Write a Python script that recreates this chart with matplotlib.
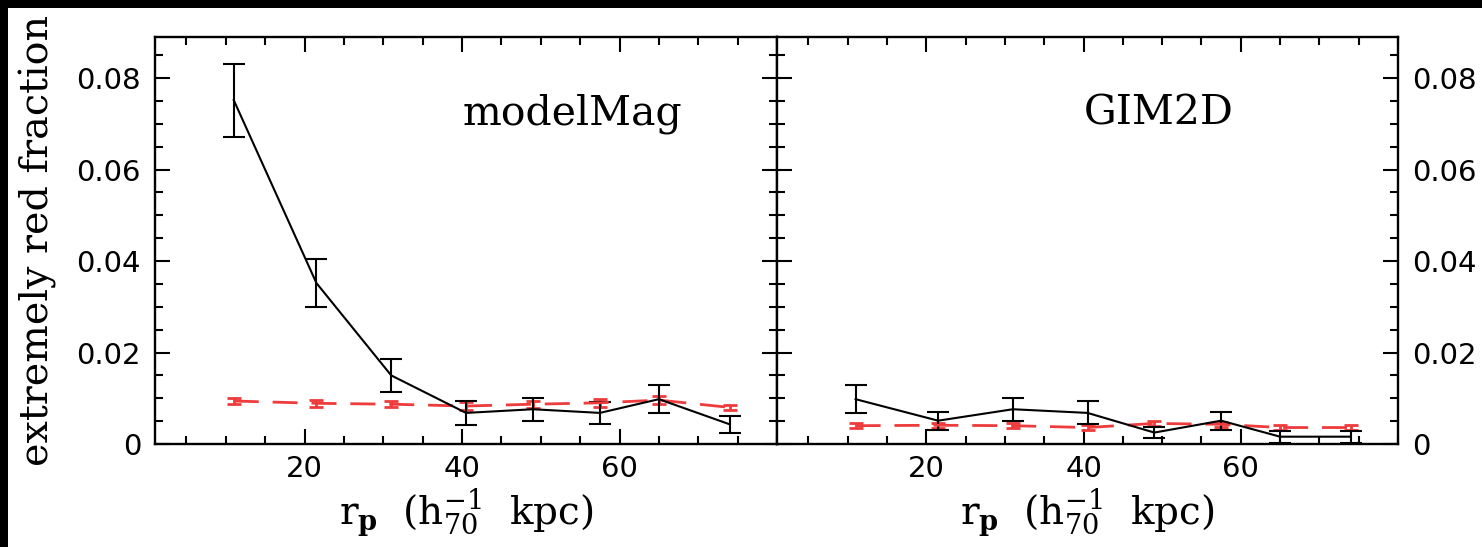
import numpy as np
import matplotlib.pyplot as plt
from matplotlib.patches import Rectangle
from matplotlib.ticker import MultipleLocator, FixedLocator, FuncFormatter

plt.rcParams['mathtext.fontset'] = 'dejavuserif'

# projected separation (h^-1_70 kpc)
rp = [11.0, 21.5, 31.0, 40.5, 49.0, 57.5, 65.0, 74.0]

# modelMag panel
mm_frac = [0.0752, 0.0352, 0.0150, 0.0068, 0.0076, 0.0068, 0.0098, 0.0043]
mm_err = [0.0080, 0.0053, 0.0036, 0.0026, 0.0025, 0.0024, 0.0030, 0.0019]
mm_ctrl = [0.0094, 0.0089, 0.0087, 0.0083, 0.0087, 0.0090, 0.0096, 0.0080]
mm_ctrl_err = [0.0007, 0.0007, 0.0007, 0.0009, 0.0008, 0.0008, 0.0008, 0.0006]

# GIM2D panel
gd_frac = [0.0098, 0.0051, 0.0076, 0.0068, 0.0025, 0.0051, 0.0016, 0.0016]
gd_err = [0.0030, 0.0020, 0.0025, 0.0025, 0.0012, 0.0020, 0.0013, 0.0013]
gd_ctrl = [0.0040, 0.0041, 0.0040, 0.0036, 0.0045, 0.0043, 0.0036, 0.0036]
gd_ctrl_err = [0.0005, 0.0005, 0.0005, 0.0005, 0.0005, 0.0005, 0.0005, 0.0005]

xticks_major = [20, 40, 60]
red = '#ee3b3b'

fig = plt.figure(figsize=(14.82, 5.47), dpi=100)
fig.patch.set_facecolor('black')
fig.patches.append(Rectangle((8/1482, 0), 1, 1 - 8/547, transform=fig.transFigure,
                             facecolor='white', edgecolor='none', zorder=-10))

ax1 = fig.add_axes([155/1482, 103/547, 622/1482, 407/547])
ax2 = fig.add_axes([777/1482, 103/547, 621/1482, 407/547])

def yfmt(v, pos):
    return '0' if abs(v) < 1e-9 else '%.2f' % v

for ax, frac, err, ctrl, cerr, name in [(ax1, mm_frac, mm_err, mm_ctrl, mm_ctrl_err, 'modelMag'),
                                        (ax2, gd_frac, gd_err, gd_ctrl, gd_ctrl_err, 'GIM2D')]:
    ax.errorbar(rp, ctrl, yerr=cerr, color=red, ls=(0, (9, 5)), lw=2.0,
                capsize=5, capthick=2.0, elinewidth=2.0)
    ax.errorbar(rp, frac, yerr=err, color='black', lw=1.5,
                capsize=8, capthick=1.5, elinewidth=1.5)
    ax.set_xlim(1, 80)
    ax.set_ylim(0, 0.089)
    ax.xaxis.set_major_locator(FixedLocator(xticks_major))
    ax.xaxis.set_minor_locator(MultipleLocator(5))
    ax.yaxis.set_major_locator(MultipleLocator(0.02))
    ax.yaxis.set_minor_locator(MultipleLocator(0.005))
    ax.yaxis.set_major_formatter(FuncFormatter(yfmt))
    ax.tick_params(which='both', direction='in', top=True, right=True, width=1.5,
                   labelsize=21, pad=10)
    ax.tick_params(axis='x', pad=8)
    ax.tick_params(which='major', length=11)
    ax.tick_params(which='minor', length=5.5)
    for s in ax.spines.values():
        s.set_linewidth(1.7)
    ax.text(0.494, 0.784, name, transform=ax.transAxes, fontsize=29.5, family='DejaVu Serif')
    ax.set_xlabel(r'r$_{\mathbf{p}}$  (h$^{-1}_{70}$  kpc)', fontsize=28,
                  family='DejaVu Serif', labelpad=2)

ax1.set_ylabel('extremely red fraction', fontsize=28.5, family='DejaVu Serif', labelpad=14)
ax2.tick_params(axis='y', which='both', labelleft=False, labelright=True)

fig.savefig('out.png', dpi=100, facecolor=fig.get_facecolor())
